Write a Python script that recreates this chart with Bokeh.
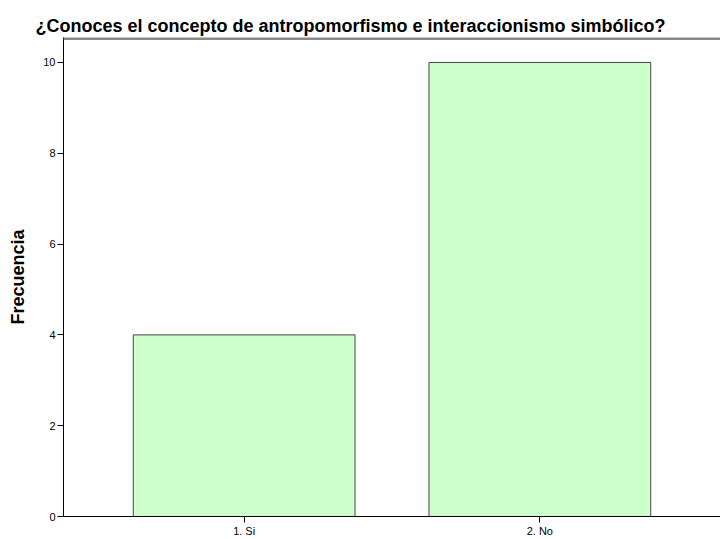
from bokeh.plotting import figure
from bokeh.models import FactorRange, Range1d, ColumnDataSource, FixedTicker, Span
from bokeh.embed import file_html
from bokeh.resources import INLINE

title_text = "¿Conoces el concepto de antropomorfismo e interaccionismo simbólico?"
categories = ["1. Si", "2. No"]
frequencies = [4, 10]
y_ticks = [0, 2, 4, 6, 8, 10]
y_top = 10.55

source = ColumnDataSource(data=dict(cat=categories, freq=frequencies))

p = figure(
    width=720, height=539,
    x_range=FactorRange(factors=categories, range_padding=0.111, range_padding_units="percent"),
    y_range=Range1d(0, y_top),
    output_backend="svg", toolbar_location=None,
    min_border_left=63, min_border_right=0, min_border_top=37, min_border_bottom=23,
)

p.vbar(x="cat", top="freq", width=0.75, source=source,
       fill_color="#CCFFCC", line_color="#444444", line_width=1)

p.title.text = title_text
p.title.align = "left"
p.title.offset = -28
p.title.text_font = "Liberation Sans"
p.title.text_font_size = "18px"
p.title.text_font_style = "bold"
p.title.text_color = "#000000"
p.title.standoff = 4

p.grid.visible = False
p.outline_line_color = None
p.add_layout(Span(location=y_top, dimension="width", line_color="#8a8a8a", line_width=5))

p.yaxis.ticker = FixedTicker(ticks=y_ticks)
p.yaxis.axis_label = "Frecuencia"
p.yaxis.axis_label_text_font = "Liberation Sans"
p.yaxis.axis_label_text_font_size = "18px"
p.yaxis.axis_label_text_font_style = "bold"
p.yaxis.axis_label_text_color = "#000000"
p.yaxis.axis_label_standoff = 12
p.yaxis.minor_tick_line_color = None

for ax in (p.xaxis, p.yaxis):
    ax.axis_line_color = "#000000"
    ax.axis_line_width = 1
    ax.major_tick_line_color = "#000000"
    ax.major_tick_out = 6
    ax.major_tick_in = 0
    ax.major_label_text_font = "Liberation Sans"
    ax.major_label_text_font_size = "11px"
    ax.major_label_text_color = "#000000"
    ax.major_label_standoff = 2

p.background_fill_color = "white"
p.border_fill_color = "white"

open("out.html", "w").write(file_html(p, INLINE))
